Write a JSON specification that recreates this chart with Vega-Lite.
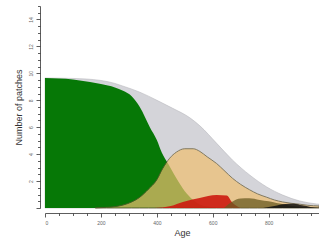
{
  "$schema": "https://vega.github.io/schema/vega-lite/v6.json",
  "width": 274,
  "height": 202,
  "autosize": "none",
  "padding": {"left": 45, "top": 6, "right": 0, "bottom": 36},
  "background": "white",
  "config": {
    "view": {"stroke": null},
    "font": "Liberation Sans",
    "axis": {
      "domainColor": "#333",
      "tickColor": "#333",
      "labelColor": "#666",
      "labelFontSize": 5,
      "titleFont": "Liberation Sans",
      "titleFontWeight": "normal",
      "titleFontSize": 9,
      "titleColor": "#333",
      "grid": false,
      "offset": 5,
      "domainWidth": 0.8,
      "tickWidth": 0.8
    }
  },
  "datasets": {
    "gray": [
      {"age": 0, "v": 9.65}, {"age": 100, "v": 9.62}, {"age": 200, "v": 9.47}, {"age": 250, "v": 9.25},
      {"age": 279, "v": 9.05}, {"age": 339, "v": 8.6}, {"age": 400, "v": 8.0}, {"age": 457, "v": 7.4},
      {"age": 518, "v": 6.7}, {"age": 554, "v": 6.1}, {"age": 614, "v": 4.8}, {"age": 671, "v": 3.55},
      {"age": 732, "v": 2.45}, {"age": 793, "v": 1.56}, {"age": 850, "v": 0.96}, {"age": 911, "v": 0.52},
      {"age": 971, "v": 0.3}, {"age": 980, "v": 0.28}
    ],
    "green": [
      {"age": 0, "v": 9.65}, {"age": 100, "v": 9.55}, {"age": 161, "v": 9.35}, {"age": 200, "v": 9.2},
      {"age": 250, "v": 8.95}, {"age": 279, "v": 8.7}, {"age": 310, "v": 8.3}, {"age": 339, "v": 7.5},
      {"age": 375, "v": 6.0}, {"age": 400, "v": 5.05}, {"age": 418, "v": 4.1}, {"age": 440, "v": 3.3},
      {"age": 470, "v": 2.2}, {"age": 500, "v": 1.25}, {"age": 530, "v": 0.6}, {"age": 560, "v": 0.2},
      {"age": 600, "v": 0.05}, {"age": 640, "v": 0}
    ],
    "tan": [
      {"age": 180, "v": 0}, {"age": 220, "v": 0.05}, {"age": 250, "v": 0.1}, {"age": 279, "v": 0.22},
      {"age": 310, "v": 0.45}, {"age": 339, "v": 0.8}, {"age": 370, "v": 1.4}, {"age": 400, "v": 2.1},
      {"age": 420, "v": 2.9}, {"age": 446, "v": 3.7}, {"age": 470, "v": 4.15}, {"age": 500, "v": 4.4},
      {"age": 530, "v": 4.4}, {"age": 554, "v": 4.2}, {"age": 580, "v": 3.8}, {"age": 614, "v": 3.3},
      {"age": 640, "v": 2.8}, {"age": 671, "v": 2.2}, {"age": 700, "v": 1.75}, {"age": 732, "v": 1.35},
      {"age": 760, "v": 1.05}, {"age": 793, "v": 0.8}, {"age": 820, "v": 0.6}, {"age": 850, "v": 0.45},
      {"age": 880, "v": 0.35}, {"age": 911, "v": 0.28}, {"age": 940, "v": 0.2}, {"age": 980, "v": 0.15}
    ],
    "red": [
      {"age": 390, "v": 0}, {"age": 450, "v": 0.15}, {"age": 493, "v": 0.45}, {"age": 553, "v": 0.74},
      {"age": 614, "v": 0.96}, {"age": 650, "v": 0.92}, {"age": 668, "v": 0.45}, {"age": 690, "v": 0.1},
      {"age": 700, "v": 0}
    ],
    "brown": [
      {"age": 640, "v": 0}, {"age": 668, "v": 0.45}, {"age": 700, "v": 0.7}, {"age": 730, "v": 0.72},
      {"age": 768, "v": 0.6}, {"age": 800, "v": 0.5}, {"age": 828, "v": 0.37}, {"age": 860, "v": 0.25},
      {"age": 886, "v": 0.15}, {"age": 920, "v": 0.08}, {"age": 960, "v": 0.03}, {"age": 980, "v": 0.02}
    ],
    "black": [
      {"age": 780, "v": 0}, {"age": 820, "v": 0.15}, {"age": 860, "v": 0.3}, {"age": 890, "v": 0.32},
      {"age": 920, "v": 0.2}, {"age": 950, "v": 0.08}, {"age": 980, "v": 0.02}
    ]
  },
  "encoding": {
    "x": {
      "field": "age", "type": "quantitative",
      "scale": {"domain": [0, 980], "nice": false, "zero": false},
      "axis": {
        "title": "Age",
        "values": [0, 50, 100, 150, 200, 250, 300, 350, 400, 450, 500, 550, 600, 650, 700, 750, 800, 850, 900, 950],
        "labelExpr": "datum.value % 200 === 0 ? format(datum.value, 'd') : ''",
        "tickSize": {"condition": {"test": "datum.value % 200 === 0", "value": 4}, "value": 2.5},
        "labelPadding": 3,
        "titlePadding": 3
      }
    },
    "y": {
      "field": "v", "type": "quantitative",
      "scale": {"domain": [0, 15], "nice": false},
      "axis": {
        "title": "Number of patches",
        "values": [0, 0.5, 1, 1.5, 2, 2.5, 3, 3.5, 4, 4.5, 5, 5.5, 6, 6.5, 7, 7.5, 8, 8.5, 9, 9.5, 10, 10.5, 11, 11.5, 12, 12.5, 13, 13.5, 14, 14.5, 15],
        "labelExpr": "datum.value % 2 === 0 && datum.value > 0 ? format(datum.value, 'd') : ''",
        "tickSize": {"condition": {"test": "datum.value % 2 === 0", "value": 4}, "value": 2.5},
        "labelAngle": -90,
        "labelAlign": "center",
        "labelBaseline": "bottom",
        "labelPadding": 3,
        "titlePadding": 5
      }
    }
  },
  "layer": [
    {"data": {"name": "gray"}, "mark": {"type": "area", "interpolate": "monotone", "color": "#d4d4d9", "stroke": "#b8b8be", "strokeWidth": 0.6}},
    {"data": {"name": "green"}, "mark": {"type": "area", "interpolate": "monotone", "color": "#067806"}},
    {"data": {"name": "tan"}, "mark": {"type": "area", "interpolate": "monotone", "color": "#f0c070", "opacity": 0.7, "stroke": "#5f5430", "strokeWidth": 1, "strokeOpacity": 1}},
    {"data": {"name": "red"}, "mark": {"type": "area", "interpolate": "monotone", "color": "#cc1a10", "opacity": 0.9}},
    {"data": {"name": "brown"}, "mark": {"type": "area", "interpolate": "monotone", "color": "#6a5a20", "opacity": 0.75}},
    {"data": {"name": "black"}, "mark": {"type": "area", "interpolate": "monotone", "color": "#111111", "opacity": 0.85}}
  ]
}
